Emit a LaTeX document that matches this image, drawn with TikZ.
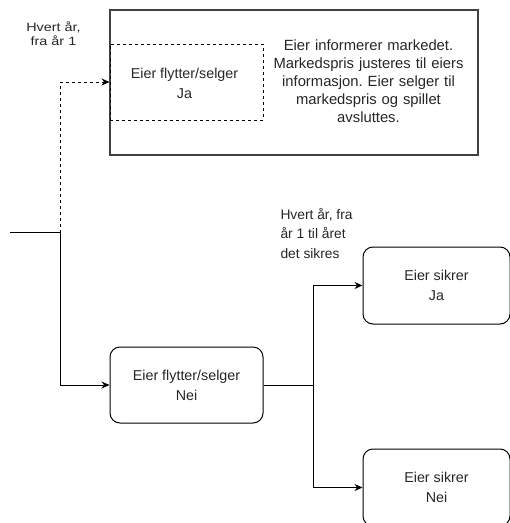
\documentclass[tikz,border=0pt]{standalone}
\usepackage{fontspec}
\setmainfont{Liberation Sans}
\usetikzlibrary{arrows.meta}
\frenchspacing
\begin{document}
\begin{tikzpicture}[x=1pt,y=-1pt,
  font=\fontsize{14.3}{20}\selectfont\frenchspacing,
  line width=1pt,
  text=black!85,
  conn/.style={-{Stealth[length=8pt,width=7pt]}},
  rbox/.style={draw, rounded corners=10pt, align=center, inner sep=0pt},
  txt/.style={align=center, inner sep=0pt}]
\useasboundingbox (0,0) rectangle (510,523);
\clip (0,0) rectangle (510,523);
% top outer box
\node[draw, line width=1.3pt, draw=black!75, minimum width=368pt, minimum height=145pt, inner sep=0pt] (outer) at (294,82.5) {};
\node[draw, dashed, minimum width=153pt, minimum height=76pt, inner sep=0pt, align=center] (ja) at (186.5,82) {};
\node[txt] (jat) at (184.5,83) {Eier flytter/selger\\Ja};
\node[txt, text width=220pt, font=\fontsize{14.8}{18}\selectfont\frenchspacing] (info) at (368.5,81) {Eier informerer markedet.\\Markedspris justeres til eiers\\informasjon. Eier selger til\\markedspris og spillet\\avsluttes.};
\node[txt] (lab1) at (53.5,35.5) {\scalebox{1.2}[1]{\fontsize{12}{13.5}\selectfont\begin{tabular}{@{}c@{}}Hvert år,\\fra år 1\end{tabular}}};
% bottom nodes
\node[rbox, minimum width=153pt, minimum height=76pt] (nei) at (186.5,385) {Eier flytter/selger\\Nei};
\node[rbox, minimum width=147pt, minimum height=77pt] (sja) at (436.5,285.5) {Eier sikrer\\Ja};
\node[rbox, minimum width=147pt, minimum height=77pt] (snei) at (436.5,487.5) {Eier sikrer\\Nei};
\node[align=left, inner sep=0pt, anchor=west, font=\fontsize{13.8}{19.5}\selectfont] (lab2) at (280,233) {Hvert år, fra\\år 1 til året\\det sikres};
% connectors
\coordinate (start) at (10,232.5);
\coordinate (j) at (60,232.5);
\coordinate (k) at (313,385);
\draw (start) -- (j);
\draw[conn] (j) |- (nei.west);
\draw[conn, dashed] (j) |- (ja.west);
\draw (nei.east) -- (k);
\draw[conn] (k) |- (sja.west);
\draw[conn] (k) |- (snei.west);
\end{tikzpicture}
\end{document}
